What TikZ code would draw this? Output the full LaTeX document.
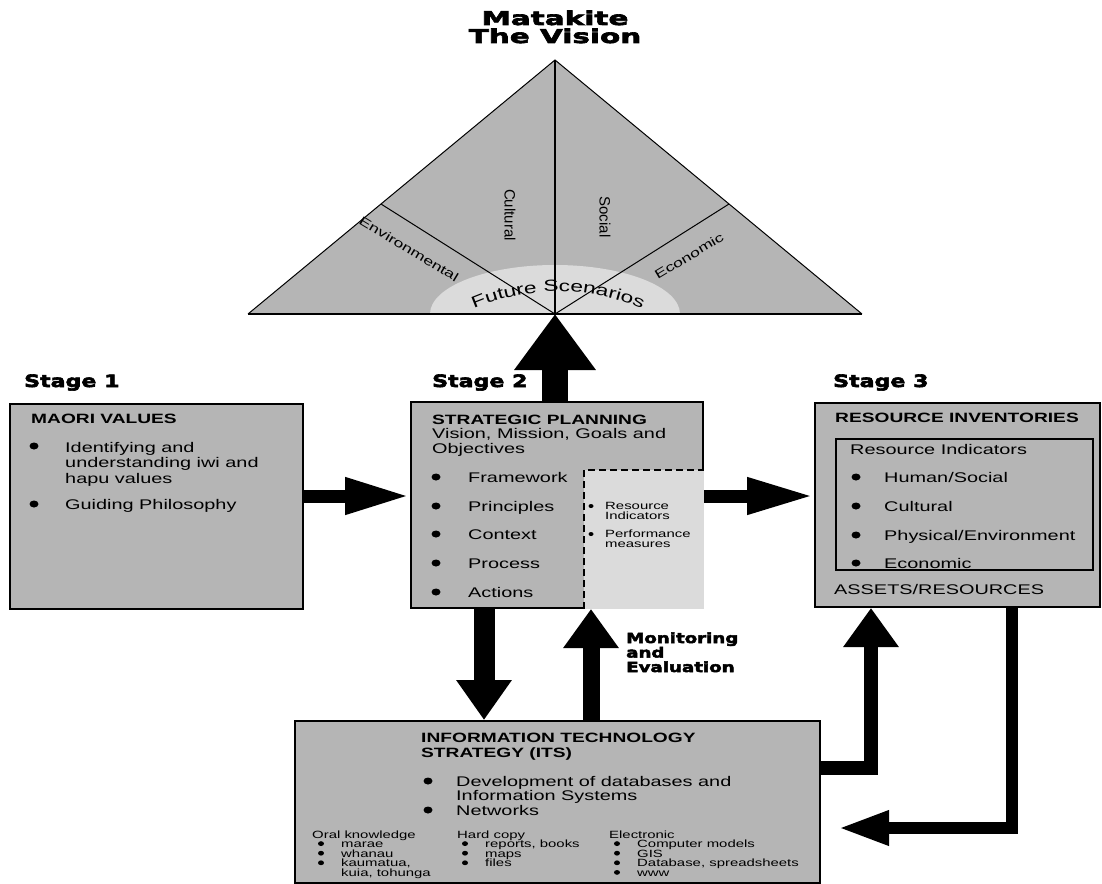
\documentclass[tikz,border=0pt]{standalone}
\usepackage{fontspec}
\setmainfont{Liberation Sans}[FakeStretch=1.42]
\newfontfamily\plainfont{Liberation Sans}
\newfontfamily\heavyfont{DejaVu Sans}[FakeStretch=1.3, FakeBold=3.5]
\newfontfamily\titlefont{DejaVu Sans}[FakeStretch=1.55, FakeBold=3.5]
\usetikzlibrary{arrows.meta,decorations.text}

\colorlet{boxgray}{black!29}
\colorlet{lightgray}{black!14}

\tikzset{
  stagebox/.style={draw, line width=2pt, fill=boxgray, anchor=north west, inner sep=0pt},
  heading/.style={anchor=base west, inner sep=0pt, font=\fontsize{13.5}{15}\selectfont\bfseries},
  item/.style={anchor=base west, inner sep=0pt, font=\fontsize{14}{15.5}\selectfont},
  small/.style={anchor=base west, inner sep=0pt, font=\fontsize{10.5}{9.5}\selectfont},
  stagelabel/.style={anchor=base west, inner sep=0pt, font=\fontsize{17}{18}\heavyfont\bfseries},
  facet/.style={inner sep=0pt, font=\fontsize{12.5}{14}\selectfont},
  bigarrow/.style={line width=#1, draw=black}
}

\begin{document}
\begin{tikzpicture}[x=1pt, y=-1pt]
  \useasboundingbox (0,0) rectangle (1102,883);

  % vision triangle
  \coordinate (apex) at (555,60);
  \coordinate (lcorner) at (248,314);
  \coordinate (rcorner) at (862,314);
  \coordinate (base) at (555,314);
  \coordinate (eleft) at (381,204);
  \coordinate (eright) at (729,204);
  \fill[boxgray] (apex) -- (lcorner) -- (rcorner) -- cycle;
  \fill[lightgray] (base) ++(-125pt,0) arc[start angle=180, end angle=0, x radius=125pt, y radius=49pt] -- cycle;
  \draw[line width=1pt] (lcorner) -- (apex) -- (rcorner);
  \draw[line width=1pt] (eleft) -- (base) -- (eright);
  \draw[line width=2pt] (apex) -- (base);
  \draw[line width=2.5pt] (lcorner) -- (rcorner);

  \node[anchor=base, inner sep=0pt, font=\fontsize{19}{21}\titlefont\bfseries] (title1) at (555,25) {Matakite};
  \node[anchor=base, inner sep=0pt, font=\fontsize{19}{21}\titlefont\bfseries] (title2) at (555,43) {The Vision};

  \node[rotate=-90, inner sep=0pt, font=\fontsize{15}{17}\plainfont] (cultural) at (510,215) {Cultural};
  \node[rotate=-90, inner sep=0pt, font=\fontsize{15}{17}\plainfont] (social) at (605,217) {Social};
  \node[facet, rotate=-31] (environ) at (409,249) {Environmental};
  \node[facet, rotate=31] (economic) at (689,256) {Economic};
  \path[decorate, decoration={text along path, text align=center,
      text={|\fontsize{16}{18}\selectfont|Future Scenarios}}]
    (452,320) .. controls (517,282) and (599,282) .. (664,320);

  % stage boxes
  \node[stagebox, minimum width=293pt, minimum height=205pt] (maori) at (9,403) {};
  \node[stagebox, minimum width=292pt, minimum height=206pt] (planning) at (410,401) {};
  \node[stagebox, minimum width=285pt, minimum height=204pt] (inventory) at (814,402) {};
  \node[stagebox, minimum width=525pt, minimum height=162pt] (its) at (294,720) {};

  \node[stagelabel] (stage1) at (24,387) {Stage 1};
  \node[stagelabel] (stage2) at (432,387) {Stage 2};
  \node[stagelabel] (stage3) at (833,387) {Stage 3};

  % stage 1
  \node[heading] (maorihead) at (31,423) {MAORI VALUES};
  \foreach \y in {446,504}
    \fill (34,\y) ellipse (4.5pt and 3.5pt);
  \node[item] (values1) at (65,452) {Identifying and};
  \node[item] (values2) at (65,467.5) {understanding iwi and};
  \node[item] (values3) at (65,483) {hapu values};
  \node[item] (philosophy) at (65,509) {Guiding Philosophy};

  % stage 2
  \fill[lightgray] (584,470) rectangle (planning.south east);
  \draw[line width=1.5pt, dash pattern=on 7pt off 4pt] (planning.south -| 584,0) -- (584,470) -- (planning.east |- 0,470);
  \node[heading] (planhead) at (432,424) {STRATEGIC PLANNING};
  \node[item] (vision1) at (432,438.5) {Vision, Mission, Goals and};
  \node[item] (vision2) at (432,453) {Objectives};
  \foreach \y/\t in {477/Framework, 506/Principles, 534/Context, 563/Process, 592/Actions} {
    \fill (436,\y) ellipse (4.5pt and 3.5pt);
    \node[item] at (468,\y+5) {\t};
  }
  \foreach \y in {506,534}
    \fill (591,\y) ellipse (2.5pt and 2pt);
  \node[small] (indic1) at (605,509.5) {Resource};
  \node[small] (indic2) at (605,519) {Indicators};
  \node[small] (perf1) at (605,537.5) {Performance};
  \node[small] (perf2) at (605,547) {measures};

  % stage 3
  \node[heading] (invhead) at (835,422) {RESOURCE INVENTORIES};
  \draw[line width=1.5pt] (836,439) rectangle (1093,570);
  \node[item] (indhead) at (850,454) {Resource Indicators};
  \foreach \y/\t in {477/Human\slash Social, 506/Cultural, 535/Physical\slash Environment, 563/Economic} {
    \fill (856,\y) ellipse (4.5pt and 3.5pt);
    \node[item] at (884,\y+5) {\t};
  }
  \node[item] (assets) at (834,594) {ASSETS/RESOURCES};

  % information technology strategy
  \node[heading] (itshead1) at (421,742) {INFORMATION TECHNOLOGY};
  \node[heading] (itshead2) at (421,757) {STRATEGY (ITS)};
  \foreach \y in {781,810}
    \fill (428,\y) ellipse (4.5pt and 3.5pt);
  \node[item] (itsitem1) at (456,786) {Development of databases and};
  \node[item] (itsitem2) at (456,800.5) {Information Systems};
  \node[item] (itsitem3) at (456,815) {Networks};

  \node[small] (oral) at (312,838) {Oral knowledge};
  \node[small] (hard) at (457,838) {Hard copy};
  \node[small] (elec) at (609,838) {Electronic};
  \foreach \x/\n in {321/3, 465/3, 617/4}
    \foreach \k in {1,...,\n}
      \fill (\x,834+\k*9.6) ellipse (3pt and 2.4pt);
  \foreach \y/\a/\b/\c in {847.5/marae/{reports, books}/Computer models,
                           857/whanau/maps/GIS,
                           866.5/{kaumatua,}/files/{Database, spreadsheets}} {
    \node[small] at (341,\y) {\a};
    \node[small] at (485,\y) {\b};
    \node[small] at (637,\y) {\c};
  }
  \node[small] (tohunga) at (341,876) {kuia, tohunga};
  \node[small] (www) at (637,876) {www};

  \node[anchor=base west, inner sep=0pt, align=left, font=\fontsize{14}{14.5}\heavyfont\bfseries]
    (monitor) at (626,672) {Monitoring\\and\\Evaluation};

  % arrows
  \coordinate (row) at (0,496);
  \coordinate (upx) at (555,0);
  \coordinate (downx) at (484,0);
  \coordinate (monx) at (591,0);
  \coordinate (outrow) at (0,768);
  \coordinate (inx) at (871,0);
  \coordinate (backx) at (1012,0);
  \coordinate (backend) at (838,828);
  \draw[bigarrow=13pt, -{Triangle[length=65pt, width=34pt]}] (maori.east |- row) -- (planning.west |- row);
  \draw[bigarrow=13pt, -{Triangle[length=67pt, width=34pt]}] (planning.east |- row) -- (inventory.west |- row);
  \draw[bigarrow=26pt, -{Triangle[length=56pt, width=78pt]}] (planning.north -| upx) -- (base);
  \draw[bigarrow=21pt, -{Triangle[length=40pt, width=53pt]}] (planning.south -| downx) -- (its.north -| downx);
  \draw[bigarrow=17pt, -{Triangle[length=39pt, width=53pt]}] (its.north -| monx) -- (planning.south -| monx);
  \draw[bigarrow=14pt, -{Triangle[length=39pt, width=53pt]}] (its.east |- outrow) -| (inventory.south -| inx);
  \draw[bigarrow=12pt, -{Triangle[length=51pt, width=32pt]}] (inventory.south -| backx) |- (backend);
\end{tikzpicture}
\end{document}
